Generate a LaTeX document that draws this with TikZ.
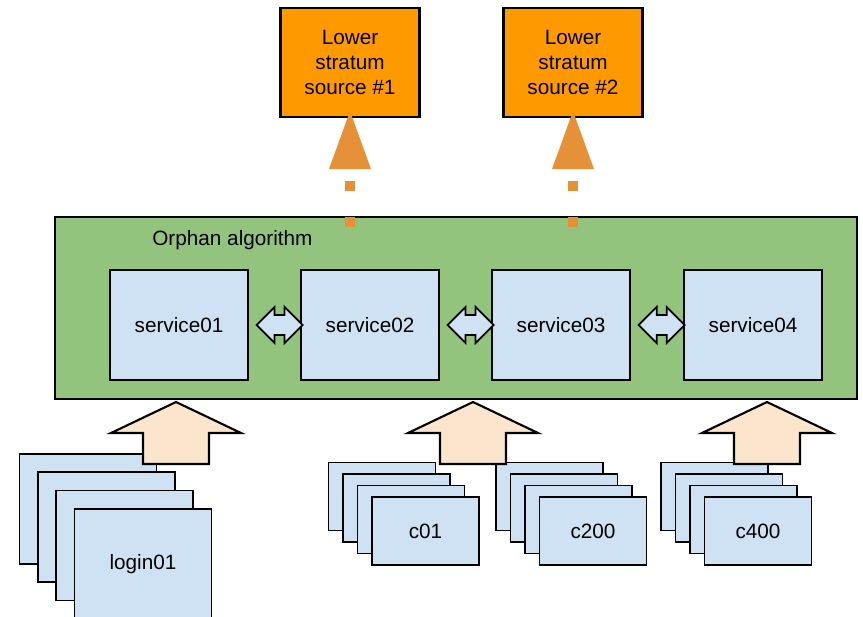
\documentclass[tikz,border=0pt]{standalone}
\usepackage{fontspec}
\setmainfont{Liberation Sans}
\usetikzlibrary{arrows.meta,calc}

\definecolor{srcorange}{RGB}{255,153,0}
\definecolor{syncorange}{RGB}{230,145,56}
\definecolor{algogreen}{RGB}{147,196,125}
\definecolor{hostblue}{RGB}{207,226,243}
\definecolor{feedpeach}{RGB}{252,229,205}

\begin{document}
\begin{tikzpicture}[x=0.02cm, y=-0.02cm,
  every node/.style={font=\fontsize{11.8}{14.2}\selectfont},
  source/.style={draw=black, line width=1.2pt, fill=srcorange, align=center,
    minimum width=2.78cm, minimum height=2.18cm, inner sep=0pt},
  algobox/.style={draw=black, line width=1.3pt, fill=algogreen,
    minimum width=16.04cm, minimum height=3.64cm},
  service/.style={draw=black, line width=1pt, fill=hostblue,
    minimum width=2.76cm, minimum height=2.2cm},
  hostbox/.style={draw=black, line width=1pt, fill=hostblue,
    minimum width=2.74cm, minimum height=2.2cm},
  nodebox/.style={draw=black, line width=1pt, fill=hostblue,
    minimum width=2.14cm, minimum height=1.36cm},
  syncline/.style={draw=syncorange, line width=0.2cm, dash pattern=on 0.2cm off 0.52cm,
    -{Triangle[length=1.16cm, width=0.84cm, line width=0pt, fill=syncorange]}},
  link/.style={draw=black, line width=1pt, fill=hostblue, line join=miter},
  feed/.style={draw=black, line width=1.2pt, fill=feedpeach, line join=miter}
]
  \useasboundingbox (0,0) rectangle (863,616);

  % lower stratum time sources
  \node[source] (src1) at (350,62.5) {Lower\\stratum\\source \#1};
  \node[source] (src2) at (573,62.5) {Lower\\stratum\\source \#2};

  % the orphan group with its four services
  \node[algobox] (orphan) at (456,308) {};
  \node[anchor=west, inner sep=0pt] (algolbl) at (152,240) {Orphan algorithm};

  \node[service] (svc1) at (179,325) {service01};
  \node[service] (svc2) at (370,325) {service02};
  \node[service] (svc3) at (561,325) {service03};
  \node[service] (svc4) at (753,325) {service04};

  % peers talk to each other
  \foreach \a/\b in {svc1/svc2, svc2/svc3, svc3/svc4}
    \draw[link] ($(\a.east)!0.15!(\b.west)$) -- ++(18,-18) -- ++(0,8) -- ++(10,0)
      -- ++(0,-8) -- ++(18,18) -- ++(-18,18) -- ++(0,-8) -- ++(-10,0) -- ++(0,8) -- cycle;

  % sync upwards to the sources
  \coordinate (sync1) at (350,227);
  \coordinate (sync2) at (573,227);
  \draw[syncline] (sync1) -- ([yshift=0.14cm]src1.south);
  \draw[syncline] (sync2) -- ([yshift=0.14cm]src2.south);

  % login nodes
  \foreach \i in {0,1,2}
    \node[hostbox] at ({88+18.3*\i},{509+18.3*\i}) {};
  \node[hostbox] (login01) at (143,564) {login01};

  % compute nodes
  \foreach \cx/\name in {382/c01, 549.5/c200, 714.5/c400} {
    \foreach \i in {0,1,2}
      \node[nodebox] at ({\cx+14.5*\i},{496.5+11.5*\i}) {};
    \node[nodebox] (\name) at ({\cx+43.5},531) {\name};
  }

  % clients feed into the orphan group
  \foreach \x in {176,473,767}
    \draw[feed] (\x,402) -- ++(65,31) -- ++(-32,0) -- ++(0,31) -- ++(-66,0)
      -- ++(0,-31) -- ++(-32,0) -- cycle;

\end{tikzpicture}
\end{document}
